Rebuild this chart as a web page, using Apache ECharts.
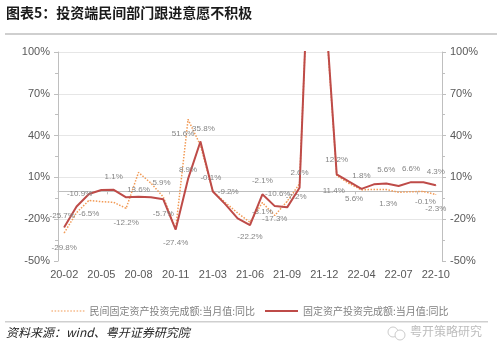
<!DOCTYPE html>
<html>
<head>
<meta charset="utf-8">
<script src="https://cdn.jsdelivr.net/npm/echarts@6/dist/echarts.min.js"></script>
<style>
html, body { margin: 0; padding: 0; background: #fff; }
#main { width: 500px; height: 354px; }
</style>
</head>
<body>
<div id="main"></div>
<script>
// 月份（无1月数据）
var months = ['20-02','20-03','20-04','20-05','20-06','20-07','20-08','20-09','20-10','20-11','20-12',
              '21-02','21-03','21-04','21-05','21-06','21-07','21-08','21-09','21-10','21-11','21-12',
              '22-02','22-03','22-04','22-05','22-06','22-07','22-08','22-09','22-10'];
// 民间固定资产投资完成额:当月值:同比 (%)
var privateFai = [-29.8, -15.3, -6.5, -7.4, -7.9, -12.2, 13.6, 5.9, -4.0, -27.0, 51.6,
                  33.0, -0.1, -8.0, -15.5, -22.2, -8.1, -17.3, -7.2, 5.5, 225, 140,
                  11.4, 5.6, 1.0, 1.4, 1.3, -0.7, -0.3, -0.1, -2.3];
// 固定资产投资完成额:当月值:同比 (%)
var totalFai = [-25.7, -10.9, -1.9, 1.0, 1.1, -4.3, -3.8, -4.3, -5.7, -27.4, 8.9,
                35.8, -0.1, -9.2, -19.4, -24.2, -2.1, -10.6, -11.5, 2.6, 228, 143,
                12.2, 6.9, 1.8, 5.0, 5.6, 3.8, 6.6, 6.5, 4.3];
var yTicks = { min: -50, max: 100, step: 30 };

// 数据标签的位置（样式）
var privateLabels = {
    0: ['bottom', [0, 5]], 2: ['bottom', [0, 4]], 5: ['bottom', [0, 5]], 6: ['bottom', [0, 8]],
    7: ['right', [-4, 0]], 10: ['bottom', [-5, 5]], 15: ['bottom', [0, 5]], 16: ['bottom', [0, 0]],
    17: ['bottom', [0, -6]], 18: ['right', [-7, -5]], 22: ['bottom', [-3, 6]], 23: ['bottom', [5, 6]],
    26: ['bottom', [2, 5]], 29: ['bottom', [2, 1]], 30: ['bottom', [0, 5]]
};
var totalLabels = {
    0: ['top', [-2, -2]], 1: ['top', [3, -3]], 4: ['top', [0, -4]], 8: ['bottom', [0, 5]],
    9: ['bottom', [0, 4]], 10: ['top', [0, 0]], 11: ['top', [3, -3]], 12: ['top', [-2, -4]],
    13: ['top', [3, -3]], 16: ['top', [0, -4]], 17: ['top', [3, -3]], 19: ['top', [0, -5]],
    22: ['top', [0, -5]], 24: ['top', [0, -4]], 26: ['top', [0, -4]], 28: ['top', [0, -4]],
    30: ['top', [0, -4]]
};

var numFont = '"Liberation Sans", Arial, sans-serif';
var cjkFont = '"Noto Sans CJK SC", sans-serif';

// 只在有标签的点上放一个看不见的小符号，让标签显示出来
function withLabels(values, cfg, color) {
    return values.map(function (v, i) {
        if (!cfg[i]) return v;
        return {
            value: v,
            symbol: 'circle',
            symbolSize: 1,
            itemStyle: { color: color },
            label: { show: true, position: cfg[i][0], offset: cfg[i][1], distance: 5 }
        };
    });
}

// 图例里的虚线图标
var dotPath = 'path://';
for (var k = 0; k < 11; k++) {
    dotPath += 'M' + (k * 3) + ',0h1.5v1h-1.5z';
}

var labelStyle = {
    show: false,
    color: '#858585',
    fontSize: 8,
    fontFamily: numFont,
    formatter: function (p) { return p.value.toFixed(1) + '%'; }
};

var yAxisBase = {
    type: 'value',
    min: yTicks.min,
    max: yTicks.max,
    interval: yTicks.step,
    axisLine: { show: true, lineStyle: { color: '#bfbfbf', width: 1 } },
    axisTick: { show: true, length: 4, lineStyle: { color: '#bfbfbf' } },
    minorTick: { show: true, splitNumber: 2, length: 3, lineStyle: { color: '#bfbfbf' } },
    axisLabel: { color: '#595959', fontSize: 11, fontFamily: numFont, margin: 8, formatter: '{value}%' }
};

var option = {
    animation: false,
    backgroundColor: '#fff',
    grid: { left: 58, right: 58, top: 52, bottom: 93, containLabel: false },
    legend: {
        top: 301,
        left: 'center',
        itemWidth: 33,
        itemHeight: 2,
        itemGap: 10,
        textStyle: { color: '#7f7f7f', fontSize: 10, fontFamily: cjkFont },
        data: [
            { name: '民间固定资产投资完成额:当月值:同比', icon: dotPath, itemStyle: { color: '#f29a55' } },
            { name: '固定资产投资完成额:当月值:同比', icon: 'rect', itemStyle: { color: '#be4b48' } }
        ]
    },
    xAxis: [
        {
            type: 'category',
            data: months,
            boundaryGap: true,
            position: 'bottom',
            axisLine: { show: false, onZero: false },
            axisTick: { show: false },
            axisLabel: { interval: 2, color: '#595959', fontSize: 11, fontFamily: numFont, margin: 8 }
        },
        {
            type: 'category',
            data: months,
            boundaryGap: true,
            position: 'top',
            axisLine: { show: true, onZero: true, onZeroAxisIndex: 0, lineStyle: { color: '#bfbfbf', width: 1 } },
            axisTick: { show: true, inside: true, length: 3, lineStyle: { color: '#bfbfbf' },
                        interval: function (i) { return i % 5 === 4; } },
            axisLabel: { show: false }
        }
    ],
    yAxis: [
        Object.assign({}, yAxisBase, {
            position: 'left',
            splitLine: { show: true, lineStyle: { color: ['rgba(0,0,0,0)', '#e6e6e6', '#e6e6e6', '#e6e6e6', '#e6e6e6', '#e6e6e6'], width: 1 } }
        }),
        Object.assign({}, yAxisBase, {
            position: 'right',
            splitLine: { show: false }
        })
    ],
    series: [
        {
            name: '民间固定资产投资完成额:当月值:同比',
            type: 'line',
            xAxisIndex: 0,
            yAxisIndex: 0,
            symbol: 'none',
            showSymbol: true,
            color: '#f29a55',
            lineStyle: { color: '#f29a55', width: 1.5, type: 'dotted' },
            label: labelStyle,
            data: withLabels(privateFai, privateLabels, '#f29a55'),
            z: 2
        },
        {
            name: '固定资产投资完成额:当月值:同比',
            type: 'line',
            xAxisIndex: 0,
            yAxisIndex: 1,
            symbol: 'none',
            showSymbol: true,
            color: '#be4b48',
            lineStyle: { color: '#be4b48', width: 2 },
            label: labelStyle,
            data: withLabels(totalFai, totalLabels, '#be4b48'),
            z: 3
        }
    ],
    graphic: [
        {
            type: 'text', left: 6, top: 6,
            style: { text: '图表5：投资端民间部门跟进意愿不积极', fill: '#1a1a1a',
                     font: 'bold 14px "Noto Sans CJK SC", sans-serif' }
        },
        {
            type: 'rect', shape: { x: 5, y: 33, width: 492, height: 2 },
            style: { fill: '#cfcfcf' }
        },
        {
            type: 'rect', shape: { x: 5, y: 321, width: 483, height: 1.5 },
            style: { fill: '#cfcfcf' }
        },
        {
            type: 'text', left: 6, top: 326,
            style: { text: '资料来源：wind、粤开证券研究院', fill: '#262626',
                     font: 'italic 12px "Noto Sans CJK SC", sans-serif' }
        },
        {
            type: 'circle', shape: { cx: 393, cy: 332, r: 5 },
            style: { fill: 'none', stroke: '#cccccc', lineWidth: 1 }
        },
        {
            type: 'circle', shape: { cx: 400, cy: 335, r: 5 },
            style: { fill: '#fff', stroke: '#cccccc', lineWidth: 1 }
        },
        {
            type: 'text', left: 410, top: 325,
            style: { text: '粤开策略研究', fill: '#bdbdbd',
                     font: '12px "Noto Sans CJK SC", sans-serif' }
        }
    ]
};

echarts.init(document.getElementById('main')).setOption(option);
</script>
</body>
</html>
